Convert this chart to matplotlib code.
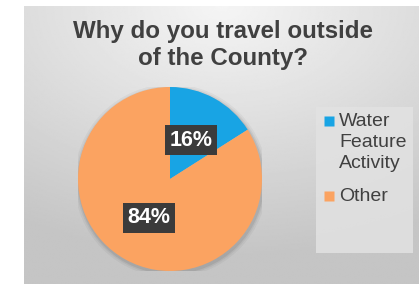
import numpy as np
import matplotlib.pyplot as plt
from matplotlib.lines import Line2D
from matplotlib.patches import Rectangle

plt.rcParams['font.family'] = ['Liberation Sans', 'DejaVu Sans']

labels = ['Water\nFeature\nActivity', 'Other']
values = [16, 84]
colors = ['#18a4e4', '#fba361']
title = 'Why do you travel outside\nof the County?'

W, H = 419, 284
fig = plt.figure(figsize=(W / 100, H / 100), dpi=100)
fig.patch.set_facecolor('white')

# gray gradient panel behind everything
bg = fig.add_axes([24 / W, 0, (W - 24) / W, (H - 6) / H])
yy, xx = np.mgrid[0:1:200j, 0:1:300j]
r = np.sqrt((xx - 0.5) ** 2 + (yy * 1.1) ** 2)
shade = 0.96 - 0.19 * np.clip(r, 0, 1)
bg.imshow(shade, cmap='gray', vmin=0, vmax=1, aspect='auto', extent=[0, 1, 1, 0])
bg.set_axis_off()

# legend background box
fig.patches.append(Rectangle((316 / W, 1 - 253 / H), 97 / W, 146 / H,
                             transform=fig.transFigure, facecolor='#e2e2e2',
                             edgecolor='none', alpha=0.85, zorder=1))

R = 92
cx, cy = 170, 179
ax = fig.add_axes([(cx - R) / W, (H - cy - R) / H, 2 * R / W, 2 * R / H])
ax.set_axis_off()

# soft shadow
for k, a in zip([1.05, 1.03, 1.015], [0.04, 0.05, 0.07]):
    ax.add_patch(plt.Circle((0.01, -0.02), k, color='black', alpha=a, lw=0))

wedges, texts, autotexts = ax.pie(values, colors=colors, startangle=90, counterclock=False,
                                  autopct='%1.0f%%', pctdistance=0.48, radius=1,
                                  wedgeprops=dict(linewidth=0))
for t in autotexts:
    t.set_color('white')
    t.set_fontsize(15.5)
    t.set_fontweight('bold')
    t.set_bbox(dict(boxstyle='square,pad=0.2', facecolor='#3b3b3b', edgecolor='none'))
ax.set_xlim(-1.0, 1.0)
ax.set_ylim(-1.0, 1.0)

fig.text(223 / W, 1 - 45 / H, title, ha='center', va='center', fontsize=17.4,
         fontweight='bold', color='#404040', linespacing=1.25)

# legend, one entry per slice, handle level with the first text line
tops = [113, 188]
for lab, c, yt in zip(labels, colors, tops):
    fig.add_artist(Line2D([328.5 / W], [1 - (yt + 8) / H], marker='s', markersize=6.5,
                          markerfacecolor=c, markeredgecolor='none',
                          transform=fig.transFigure))
    fig.text(339 / W, 1 - yt / H, lab, ha='left', va='top', fontsize=14,
             color='#404040', linespacing=1.3)

fig.savefig('out.png', dpi=100)
